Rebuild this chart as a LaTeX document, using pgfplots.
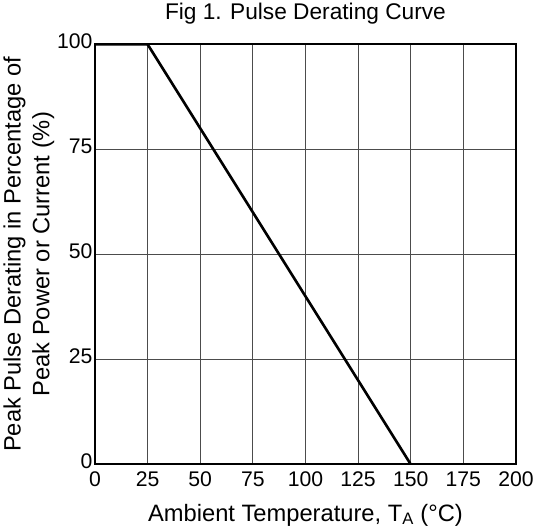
\documentclass[border=0pt]{standalone}
\usepackage{pgfplots}
\pgfplotsset{compat=1.18}
\usepackage{fontspec}
\setmainfont{Liberation Sans}
\begin{document}
\begin{tikzpicture}
\begin{axis}[
    scale only axis,
    width=416bp, height=415bp,
    xmin=0, xmax=200, ymin=0, ymax=100,
    xtick={0,25,...,200},
    ytick={0,25,50,75,100},
    /pgf/number format/assume math mode=true,
    ticklabel style={font=\fontsize{21}{24}\selectfont},
    tick style={draw=none},
    grid=major,
    grid style={black!70, line width=0.8bp},
    axis line style={line width=1.6bp},
    title={Fig 1. Pulse Derating Curve},
    title style={font=\fontsize{22.5}{26}\selectfont, yshift=10bp},
    xlabel={Ambient Temperature, T\textsubscript{A} (°C)},
    xlabel style={font=\fontsize{23.5}{27}\selectfont, yshift=-10bp},
    ylabel={Peak Pulse Derating in Percentage of\\Peak Power or Current (\%)},
    ylabel style={font=\fontsize{23.5}{28.5}\selectfont, align=center, yshift=-4bp},
    yticklabel style={xshift=1bp, yshift=3bp},
    xticklabel style={yshift=-4bp},
]
\addplot[black, line width=2.6bp] coordinates {(0,100) (25,100) (150,0)};
\end{axis}
\end{tikzpicture}
\end{document}
